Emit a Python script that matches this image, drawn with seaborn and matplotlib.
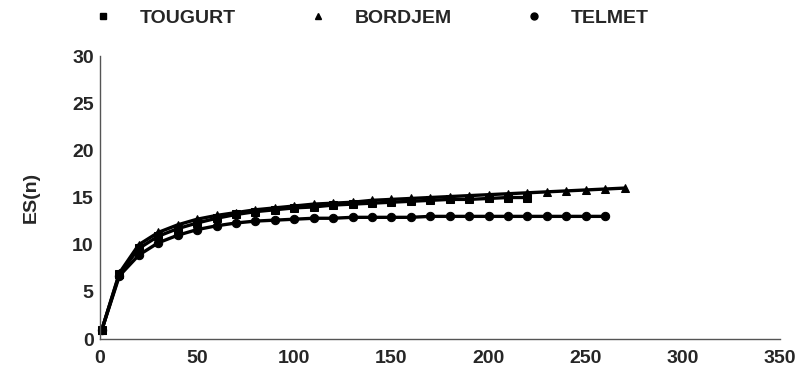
import matplotlib
matplotlib.use("Agg")
import matplotlib.pyplot as plt
from matplotlib.lines import Line2D
import seaborn as sns
import pandas as pd

sites = ["TOUGURT", "BORDJEM", "TELMET"]
n_tougurt = [1] + list(range(10, 230, 10))
es_tougurt = [1.0, 6.9, 9.6, 10.9, 11.7, 12.3, 12.8, 13.2, 13.5, 13.7, 13.9, 14.0,
              14.2, 14.3, 14.4, 14.5, 14.6, 14.7, 14.8, 14.8, 14.9, 15.0, 15.0]
n_bordjem = [1] + list(range(10, 280, 10))
es_bordjem = [1.0, 7.0, 10.0, 11.3, 12.1, 12.7, 13.1, 13.4, 13.7, 13.9, 14.1, 14.3,
              14.4, 14.5, 14.7, 14.8, 14.9, 15.0, 15.1, 15.2, 15.3, 15.4, 15.5, 15.6,
              15.7, 15.8, 15.9, 16.0]
n_telmet = [1] + list(range(10, 270, 10))
es_telmet = [1.0, 6.7, 8.9, 10.2, 11.0, 11.6, 12.0, 12.3, 12.5, 12.6, 12.7, 12.8,
             12.8, 12.9, 12.9, 12.9, 12.9, 13.0, 13.0, 13.0, 13.0, 13.0, 13.0, 13.0,
             13.0, 13.0, 13.0]
x_ticks = [0, 50, 100, 150, 200, 250, 300, 350]
y_ticks = [0, 5, 10, 15, 20, 25, 30]

df = pd.concat([
    pd.DataFrame({"n": n_tougurt, "ES": es_tougurt, "site": sites[0]}),
    pd.DataFrame({"n": n_bordjem, "ES": es_bordjem, "site": sites[1]}),
    pd.DataFrame({"n": n_telmet, "ES": es_telmet, "site": sites[2]}),
])

sns.set_style("white")
plt.rcParams["font.family"] = ["Liberation Sans", "DejaVu Sans"]
plt.rcParams["font.weight"] = "bold"

fig = plt.figure(figsize=(8.01, 3.76), dpi=100)
ax = fig.add_axes([0.1248, 0.0984, 0.849, 0.7526])

markers = {"TOUGURT": "s", "BORDJEM": "^", "TELMET": "o"}
sns.lineplot(data=df, x="n", y="ES", hue="site", style="site",
             palette={s: "black" for s in sites}, markers=markers, dashes=False,
             linewidth=2.4, markersize=6, markeredgecolor="black",
             legend=False, ax=ax, sort=False)

ax.set_xlim(0, 350)
ax.set_ylim(0, 30)
ax.set_xticks(x_ticks)
ax.set_yticks(y_ticks)
ax.set_xticklabels([str(v) for v in x_ticks], fontsize=14, fontweight="bold")
ax.set_yticklabels([str(v) for v in y_ticks], fontsize=14, fontweight="bold")
ax.set_xlabel("")
ax.set_ylabel("ES(n)", fontsize=14, fontweight="bold")
ax.yaxis.set_label_coords(-0.088, 0.5)
for s in ["top", "right"]:
    ax.spines[s].set_visible(False)
for s in ["left", "bottom"]:
    ax.spines[s].set_color("#555555")
    ax.spines[s].set_linewidth(1.0)
ax.tick_params(axis="y", direction="inout", length=11, width=1, color="#555555",
               pad=-1)
ax.tick_params(axis="x", direction="in", length=6, width=1, color="#555555",
               pad=8)
for ln in ax.lines:
    ln.set_clip_on(False)

handles = [Line2D([], [], linestyle="none", marker=markers[s], color="black",
                  markersize=5) for s in sites]
fig.legend(handles, sites, loc="upper left", bbox_to_anchor=(0.1044, 0.975),
           ncol=3, frameon=False, columnspacing=3.2, borderpad=0,
           borderaxespad=0, handlelength=2.0, handletextpad=0.9,
           prop={"weight": "bold", "size": 14})

fig.savefig("out.png", dpi=100)
